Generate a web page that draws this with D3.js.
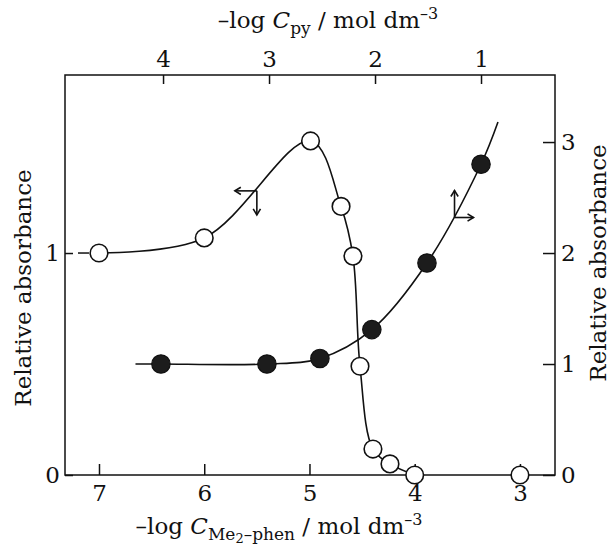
<!DOCTYPE html>
<html><head><meta charset="utf-8">
<script src="https://cdn.jsdelivr.net/npm/d3@7"></script>
<style>
html,body{margin:0;padding:0;background:#fff;}
svg text{font-family:"DejaVu Serif",serif;fill:#111;}
</style></head>
<body><svg id="c" width="616" height="548"></svg>
<script>
// ---- data ----
// open circles: -log C(Me2-phen) (bottom axis) vs relative absorbance (left axis)
const phenX = [7.0, 6.0, 4.99, 4.70, 4.587, 4.52, 4.397, 4.235, 4.0, 3.0];
const phenY = [1.0, 1.068, 1.505, 1.21, 0.986, 0.49, 0.117, 0.05, 0.0, 0.0];
// filled circles: -log C(py) (top axis) vs relative absorbance (right axis)
const pyX = [4.02, 3.02, 2.52, 2.03, 1.51, 1.0];
const pyY = [1.0, 1.0, 1.05, 1.31, 1.91, 2.80];
// smooth trace drawn through the filled circles (extends beyond them)
const pyCurveX = [4.26, 4.02, 3.02, 2.52, 2.03, 1.51, 1.0, 0.84];
const pyCurveY = [1.0, 1.0, 1.0, 1.05, 1.31, 1.91, 2.80, 3.18];
// tick labels
const bottomTicks = [7, 6, 5, 4, 3];
const topTicks = [4, 3, 2, 1];
const leftTicks = [0, 1];
const rightTicks = [0, 1, 2, 3];
// arrow anchors (axis-indicator arrows on the curves)
const phenArrow = {x: 5.50, y: 1.28};
const pyArrow = {x: 1.25, y: 2.32};

// ---- layout ----
const L = 65, R = 555, T = 75, B = 475;
const svg = d3.select("#c");
const xBot = d3.scaleLinear().domain([7.323, 2.667]).range([L, R]);
const xTop = d3.scaleLinear().domain([4.925, 0.302]).range([L, R]);
const yL = d3.scaleLinear().domain([0, 1.802]).range([B, T]);
const yR = d3.scaleLinear().domain([0, 3.604]).range([B, T]);

const ink = "#111";
const fs = 23;

function styleAxis(g){
  g.attr("font-family", "DejaVu Serif, serif").attr("font-size", fs);
  g.select(".domain").remove();
  g.selectAll(".tick line").attr("stroke", ink).attr("stroke-width", 1.5);
  g.selectAll(".tick text").attr("fill", ink);
}

// axes
svg.append("g").attr("transform", `translate(0,${B})`)
  .call(d3.axisBottom(xBot).tickValues(bottomTicks).tickFormat(d3.format("d")).tickSizeInner(-11).tickSizeOuter(0).tickPadding(10))
  .call(styleAxis);
svg.append("g").attr("transform", `translate(0,${T})`)
  .call(d3.axisTop(xTop).tickValues(topTicks).tickFormat(d3.format("d")).tickSizeInner(-9).tickSizeOuter(0).tickPadding(8))
  .call(styleAxis);
svg.append("g").attr("transform", `translate(${L},0)`)
  .call(d3.axisLeft(yL).tickValues(leftTicks).tickFormat(d3.format("d")).tickSizeInner(-8).tickSizeOuter(0).tickPadding(5))
  .call(styleAxis);
svg.append("g").attr("transform", `translate(${R},0)`)
  .call(d3.axisRight(yR).tickValues(rightTicks).tickFormat(d3.format("d")).tickSizeInner(-12).tickSizeOuter(0).tickPadding(6))
  .call(styleAxis);

// frame
svg.append("rect").attr("x", L).attr("y", T).attr("width", R - L).attr("height", B - T)
  .attr("fill", "none").attr("stroke", ink).attr("stroke-width", 1.5);

// open-circle curve
const phen = phenX.map((x, i) => ({x, y: phenY[i]}));
const phenLine = d3.line().x(d => xBot(d.x)).y(d => yL(d.y)).curve(d3.curveCatmullRom.alpha(0.5));
svg.append("path").datum(phen.filter(d => d.x >= 4.0))
  .attr("d", phenLine).attr("fill", "none").attr("stroke", ink).attr("stroke-width", 1.6);
// short dash between the axis tick and the first point
svg.append("line").attr("x1", L + 13).attr("x2", xBot(phenX[0]) - 10)
  .attr("y1", yL(phenY[0])).attr("y2", yL(phenY[0]))
  .attr("stroke", ink).attr("stroke-width", 1.5);

// filled-circle curve
const pyC = pyCurveX.map((x, i) => ({x, y: pyCurveY[i]}));
const pyLine = d3.line().x(d => xTop(d.x)).y(d => yR(d.y)).curve(d3.curveCatmullRom.alpha(0.5));
svg.append("path").datum(pyC).attr("d", pyLine).attr("fill", "none").attr("stroke", ink).attr("stroke-width", 1.6);

// markers
svg.append("g").selectAll("circle").data(phen).join("circle")
  .attr("cx", d => xBot(d.x)).attr("cy", d => yL(d.y)).attr("r", 8.8)
  .attr("fill", "#fff").attr("stroke", ink).attr("stroke-width", 1.6);
svg.append("g").selectAll("circle").data(pyX.map((x, i) => ({x, y: pyY[i]}))).join("circle")
  .attr("cx", d => xTop(d.x)).attr("cy", d => yR(d.y)).attr("r", 9.2)
  .attr("fill", "#1c1c1c").attr("stroke", ink).attr("stroke-width", 1.2);

// indicator arrows
function arrow(x1, y1, x2, y2){
  const g = svg.append("g").attr("stroke", ink).attr("stroke-width", 1.6).attr("fill", "none");
  g.append("line").attr("x1", x1).attr("y1", y1).attr("x2", x2).attr("y2", y2);
  const a = Math.atan2(y2 - y1, x2 - x1), h = 7, s = 0.55;
  g.append("path").attr("d",
    `M${x2 - h*Math.cos(a - s)},${y2 - h*Math.sin(a - s)}L${x2},${y2}L${x2 - h*Math.cos(a + s)},${y2 - h*Math.sin(a + s)}`);
}
{
  const ax = xBot(phenArrow.x), ay = yL(phenArrow.y);
  arrow(ax, ay, ax - 22, ay);
  arrow(ax, ay, ax, ay + 24);
  const bx = xTop(pyArrow.x), by = yR(pyArrow.y);
  arrow(bx, by, bx, by - 27);
  arrow(bx, by, bx + 19, by);
}

// axis titles
const topTitle = svg.append("text").attr("x", 328).attr("y", 28).attr("text-anchor", "middle").attr("font-size", fs);
topTitle.append("tspan").text("–log ");
topTitle.append("tspan").attr("font-style", "italic").text("C");
topTitle.append("tspan").attr("font-size", 17).attr("dy", 6).text("py");
topTitle.append("tspan").attr("dy", -6).text(" / mol dm");
topTitle.append("tspan").attr("font-size", 16).attr("dy", -9).text("–3");

const botTitle = svg.append("text").attr("x", 279).attr("y", 534).attr("text-anchor", "middle").attr("font-size", fs);
botTitle.append("tspan").text("–log ");
botTitle.append("tspan").attr("font-style", "italic").text("C");
botTitle.append("tspan").attr("font-size", 17).attr("dy", 6).text("Me");
botTitle.append("tspan").attr("font-size", 13).attr("dy", 3).text("2");
botTitle.append("tspan").attr("font-size", 17).attr("dy", -3).text("–phen");
botTitle.append("tspan").attr("dy", -6).text(" / mol dm");
botTitle.append("tspan").attr("font-size", 16).attr("dy", -9).text("–3");

svg.append("text").attr("transform", "translate(31,288) rotate(-90)").attr("text-anchor", "middle")
  .attr("font-size", fs).text("Relative absorbance");
svg.append("text").attr("transform", "translate(606,263) rotate(-90)").attr("text-anchor", "middle")
  .attr("font-size", fs).text("Relative absorbance");
</script></body></html>
